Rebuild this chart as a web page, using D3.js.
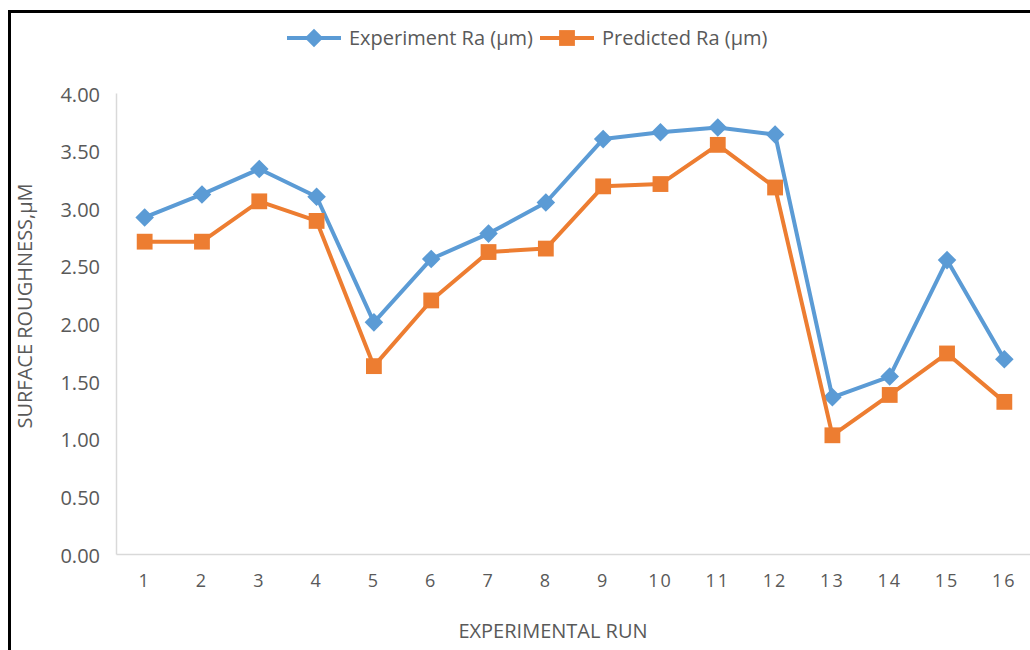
<!DOCTYPE html>
<html>
<head>
<meta charset="utf-8">
<script src="https://cdn.jsdelivr.net/npm/d3@7"></script>
<style>
  html, body { margin: 0; padding: 0; background: #fff; }
  svg { display: block; font-family: "Open Sans", "Liberation Sans", sans-serif; }
</style>
</head>
<body>
<svg id="chart" width="1030" height="650"></svg>
<script>
// Surface roughness per experimental run
const runs = ["1","2","3","4","5","6","7","8","9","10","11","12","13","14","15","16"];
const experimentRa = [2.92, 3.12, 3.34, 3.10, 2.01, 2.56, 2.78, 3.05, 3.60, 3.66, 3.70, 3.64, 1.36, 1.54, 2.55, 1.69];
const predictedRa  = [2.71, 2.71, 3.06, 2.89, 1.63, 2.20, 2.62, 2.65, 3.19, 3.21, 3.55, 3.18, 1.03, 1.38, 1.74, 1.32];
const yTicks = [0, 0.5, 1, 1.5, 2, 2.5, 3, 3.5, 4];
const seriesNames = ["Experiment Ra (\u03bcm)", "Predicted Ra (\u03bcm)"];

const svg = d3.select("#chart");
const plot = { left: 116, right: 1033, top: 93, bottom: 554 };
const blue = "#5B9BD5", orange = "#ED7D31";
const textColor = "#595959", axisColor = "#D9D9D9";

// Frame around the chart
svg.append("rect")
  .attr("x", 9.5).attr("y", 11.5)
  .attr("width", 1100).attr("height", 700)
  .attr("fill", "none").attr("stroke", "#000").attr("stroke-width", 3);

const x = d3.scaleBand().domain(runs).range([plot.left, plot.right]).padding(0);
const y = d3.scaleLinear().domain([0, 4]).range([plot.bottom, plot.top]);

// Y axis
const yAxis = svg.append("g")
  .attr("transform", `translate(${plot.left},0)`)
  .call(d3.axisLeft(y).tickValues(yTicks).tickFormat(d3.format(".2f")).tickSize(0).tickPadding(16));
yAxis.select(".domain").attr("stroke", axisColor).attr("stroke-width", 1.5);
yAxis.selectAll("text").attr("fill", textColor).attr("font-size", 20).attr("font-family", "Open Sans")
  .attr("dy", "0.4em");

// X axis
const xAxis = svg.append("g")
  .attr("transform", `translate(0,${plot.bottom})`)
  .call(d3.axisBottom(x).tickSize(0).tickPadding(20));
xAxis.select(".domain").attr("stroke", axisColor).attr("stroke-width", 1.5);
xAxis.selectAll("text").attr("fill", textColor).attr("font-size", 18).attr("font-family", "Open Sans")
  .attr("letter-spacing", 2);

// Axis titles
svg.append("text")
  .attr("transform", "translate(32,306) rotate(-90)")
  .attr("text-anchor", "middle")
  .attr("fill", textColor).attr("font-size", 20)
  .text("SURFACE ROUGHNESS,\u03bcM");
svg.append("text")
  .attr("x", 553).attr("y", 638)
  .attr("text-anchor", "middle")
  .attr("fill", textColor).attr("font-size", 20)
  .text("EXPERIMENTAL RUN");

const cx = d => x(d) + x.bandwidth() / 2;
const line = d3.line().x((d, i) => cx(runs[i])).y(d => y(d));

const diamond = d3.symbol().type(d3.symbolDiamond2).size(220);
const square = d3.symbol().type(d3.symbolSquare).size(250);

function drawSeries(values, color, sym) {
  const g = svg.append("g");
  g.append("path").datum(values)
    .attr("d", line).attr("fill", "none")
    .attr("stroke", color).attr("stroke-width", 4).attr("stroke-linejoin", "round");
  g.selectAll("path.m").data(values).join("path")
    .attr("class", "m")
    .attr("d", sym)
    .attr("transform", (d, i) => `translate(${cx(runs[i])},${y(d)})`)
    .attr("fill", color);
}
drawSeries(experimentRa, blue, diamond);
drawSeries(predictedRa, orange, square);

// Legend
const legend = [
  { name: seriesNames[0], color: blue, sym: diamond, x0: 287 },
  { name: seriesNames[1], color: orange, sym: square, x0: 540 }
];
const lg = svg.append("g");
legend.forEach(l => {
  lg.append("line").attr("x1", l.x0).attr("x2", l.x0 + 54).attr("y1", 38).attr("y2", 38)
    .attr("stroke", l.color).attr("stroke-width", 4);
  lg.append("path").attr("d", l.sym).attr("transform", `translate(${l.x0 + 27},38)`).attr("fill", l.color);
  lg.append("text").attr("x", l.x0 + 62).attr("y", 45)
    .attr("fill", textColor).attr("font-size", 20).text(l.name);
});
</script>
</body>
</html>
